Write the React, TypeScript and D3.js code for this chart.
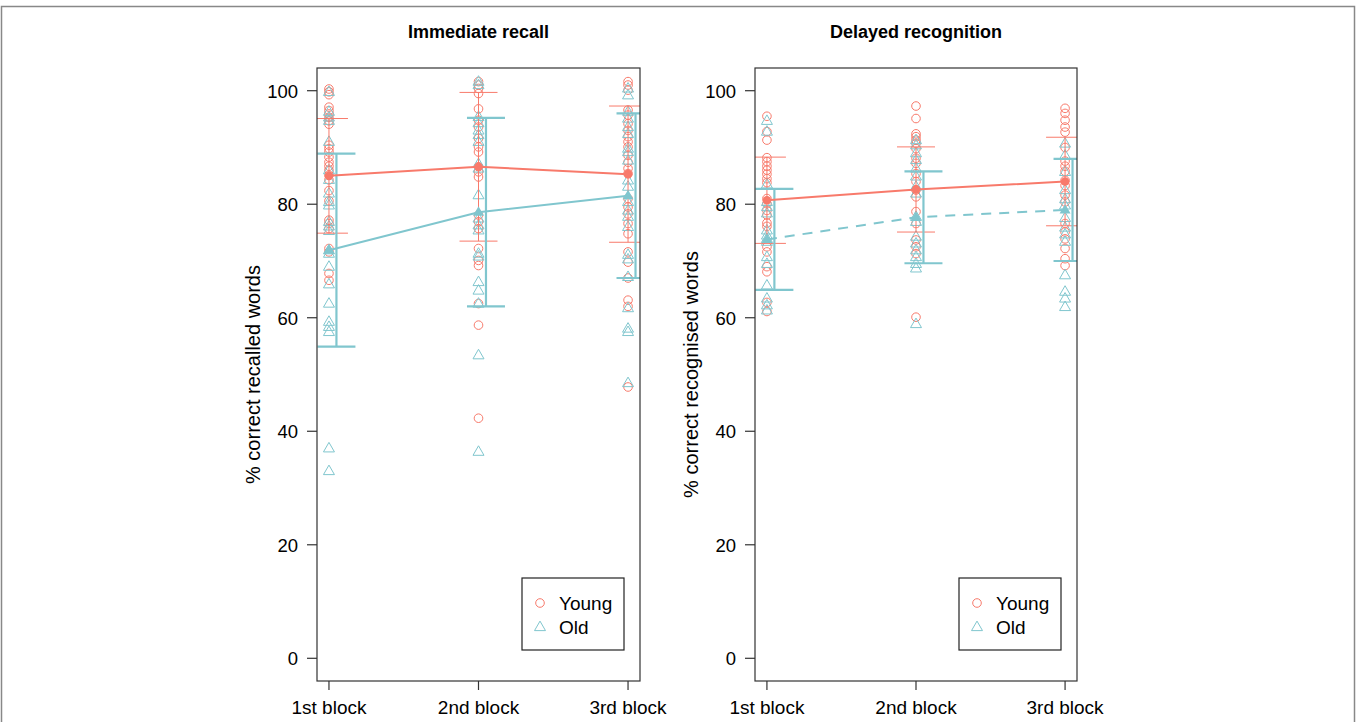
import React from 'react';
import * as d3 from 'd3';

const blocks = ['1st block', '2nd block', '3rd block'];
const yTicks = [0, 20, 40, 60, 80, 100];

// Immediate recall, individual scores (% words)
const recallYoung1 = [100.3, 99.8, 99.3, 97.1, 96.5, 95.9, 95.3, 94.7, 94.1, 90.4, 89.8, 89.2, 88.3, 87.4, 86.7, 86.0, 85.1, 84.3, 82.4, 80.6, 77.2, 76.6, 75.7, 72.2, 71.6, 67.8, 66.6];
const recallOld1 = [99.8, 96.3, 95.3, 94.7, 91.0, 86.0, 84.3, 81.9, 80.4, 79.8, 76.9, 76.1, 75.3, 71.9, 71.3, 69.0, 65.9, 62.5, 59.3, 58.4, 57.5, 37.0, 33.0];
const recallYoung2 = [101.6, 101.0, 100.4, 99.5, 96.8, 94.8, 93.6, 91.6, 90.1, 89.2, 86.6, 85.7, 84.8, 78.1, 76.9, 75.7, 72.2, 70.1, 69.2, 62.5, 58.7, 42.3];
const recallOld2 = [101.6, 101.0, 95.4, 94.3, 93.0, 92.2, 91.0, 87.1, 86.3, 81.6, 77.5, 76.3, 75.4, 71.3, 70.8, 66.3, 64.8, 62.5, 53.4, 36.4];
const recallYoung3 = [101.6, 101.0, 100.1, 96.6, 95.7, 94.2, 93.0, 91.9, 91.0, 90.1, 88.6, 87.4, 86.3, 85.4, 81.0, 79.5, 78.3, 76.6, 74.8, 71.6, 69.8, 67.0, 63.1, 62.0, 47.8];
const recallOld3 = [100.4, 99.2, 96.3, 95.1, 93.6, 92.4, 89.8, 89.2, 87.7, 84.2, 83.1, 80.4, 78.9, 77.8, 76.0, 71.1, 70.3, 67.2, 61.7, 58.1, 57.5, 48.5];
const recallYoungMean = [85.0, 86.6, 85.3];
const recallYoungSd = [10.1, 13.1, 12.0];
const recallOldMean = [71.9, 78.6, 81.5];
const recallOldSd = [17.0, 16.6, 14.5];

// Delayed recognition, individual scores (% words)
const recogYoung1 = [95.5, 92.8, 91.3, 88.2, 87.5, 86.7, 86.0, 85.3, 84.5, 83.8, 81.0, 80.1, 78.9, 78.1, 76.7, 76.1, 72.5, 71.6, 69.0, 68.1, 62.7, 61.1];
const recogOld1 = [94.7, 92.8, 83.5, 80.4, 79.5, 78.4, 75.4, 74.5, 73.9, 73.4, 70.7, 69.5, 65.7, 63.4, 62.2, 61.3];
const recogYoung2 = [97.3, 95.1, 92.4, 91.9, 91.3, 90.7, 89.8, 88.1, 87.2, 85.4, 84.0, 82.5, 81.3, 78.7, 76.6, 73.7, 72.5, 71.3, 60.1];
const recogOld2 = [91.3, 90.4, 89.0, 87.8, 86.3, 84.9, 83.1, 81.9, 77.8, 76.9, 74.3, 73.1, 71.9, 70.7, 69.5, 68.7, 58.9];
const recogYoung3 = [96.9, 96.0, 94.8, 93.6, 92.7, 90.0, 87.6, 86.7, 85.8, 84.2, 83.3, 81.6, 80.4, 76.6, 75.1, 73.9, 72.2, 70.4, 69.2];
const recogOld3 = [90.7, 88.6, 85.7, 82.5, 80.9, 79.8, 77.6, 75.9, 74.7, 73.4, 67.5, 64.6, 63.4, 61.9];
const recogYoungMean = [80.7, 82.6, 84.0];
const recogYoungSd = [7.6, 7.5, 7.8];
const recogOldMean = [73.8, 77.7, 79.0];
const recogOldSd = [8.9, 8.1, 9.0];

const RED = '#f87a6b';
const TEAL = '#80c6ce';
const FONT = '"Liberation Sans", Arial, Helvetica, sans-serif';

const y = d3.scaleLinear().domain([-4, 104]).range([681, 68]);

function triPath(cx: number, cy: number, s: number) {
  const h = s * 0.866;
  return `M${cx},${cy - h * 0.62}L${cx + s / 2},${cy + h * 0.38}L${cx - s / 2},${cy + h * 0.38}Z`;
}

function Panel(props: any) {
  const { id, left, right, title, ylabel, young, old, yMean, ySd, oMean, oSd, dashed, legendX } = props;
  const x = d3.scaleLinear().domain([0.92, 3.08]).range([left, right]);
  const top = y(104);
  const bottom = y(-4);
  const off = 0.05;
  const cap = 19;
  const line = d3.line<number>().x((_, i) => x(i + 1)).y(d => y(d));

  return (
    <g>
      <defs>
        <clipPath id={id}>
          <rect x={left} y={top} width={right - left} height={bottom - top} />
        </clipPath>
      </defs>
      <text x={(left + right) / 2} y={38} textAnchor="middle" fontWeight="bold" fontSize={18} fontFamily={FONT}>{title}</text>

      <g clipPath={`url(#${id})`}>
        {young.map((vals: number[], i: number) => vals.map((v, j) => (
          <circle key={`y${i}-${j}`} cx={x(i + 1)} cy={y(v)} r={4.3} fill="none" stroke={RED} strokeWidth={1} />
        )))}
        {old.map((vals: number[], i: number) => vals.map((v, j) => (
          <path key={`o${i}-${j}`} d={triPath(x(i + 1), y(v), 11)} fill="none" stroke={TEAL} strokeWidth={1} />
        )))}

        {yMean.map((m: number, i: number) => {
          const cx = x(i + 1);
          return (
            <g key={`ye${i}`} stroke={RED} strokeWidth={1}>
              <line x1={cx} x2={cx} y1={y(m - ySd[i])} y2={y(m + ySd[i])} />
              <line x1={cx - cap} x2={cx + cap} y1={y(m - ySd[i])} y2={y(m - ySd[i])} />
              <line x1={cx - cap} x2={cx + cap} y1={y(m + ySd[i])} y2={y(m + ySd[i])} />
            </g>
          );
        })}
        {oMean.map((m: number, i: number) => {
          const cx = x(i + 1 + off);
          return (
            <g key={`oe${i}`} stroke={TEAL} strokeWidth={2.2}>
              <line x1={cx} x2={cx} y1={y(m - oSd[i])} y2={y(m + oSd[i])} />
              <line x1={cx - cap} x2={cx + cap} y1={y(m - oSd[i])} y2={y(m - oSd[i])} />
              <line x1={cx - cap} x2={cx + cap} y1={y(m + oSd[i])} y2={y(m + oSd[i])} />
            </g>
          );
        })}

        <path d={line(yMean) || ''} fill="none" stroke={RED} strokeWidth={2} />
        <path d={line(oMean) || ''} fill="none" stroke={TEAL} strokeWidth={2}
          strokeDasharray={dashed ? '10,8' : undefined} />
        {yMean.map((m: number, i: number) => (
          <circle key={`ym${i}`} cx={x(i + 1)} cy={y(m)} r={4.3} fill={RED} />
        ))}
        {oMean.map((m: number, i: number) => (
          <path key={`om${i}`} d={triPath(x(i + 1), y(m), 11)} fill={TEAL} />
        ))}
      </g>

      <rect x={left} y={top} width={right - left} height={bottom - top} fill="none" stroke="#333" strokeWidth={1.2} />

      {yTicks.map(t => (
        <g key={`yt${t}`}>
          <line x1={left - 10} x2={left} y1={y(t)} y2={y(t)} stroke="#333" strokeWidth={1.2} />
          <text x={left - 19} y={y(t) + 7} textAnchor="end" fontSize={18.5} fontFamily={FONT}>{t}</text>
        </g>
      ))}
      {blocks.map((b, i) => (
        <g key={`xt${i}`}>
          <line x1={x(i + 1)} x2={x(i + 1)} y1={bottom} y2={bottom + 9} stroke="#333" strokeWidth={1.2} />
          <text x={x(i + 1)} y={bottom + 33} textAnchor="middle" fontSize={19} fontFamily={FONT}>{b}</text>
        </g>
      ))}
      <text transform={`translate(${left - 57},${(top + bottom) / 2}) rotate(-90)`} textAnchor="middle"
        fontSize={20} fontFamily={FONT}>{ylabel}</text>

      <g>
        <rect x={legendX} y={578} width={102} height={72} fill="white" stroke="#222" strokeWidth={1.2} />
        <circle cx={legendX + 18} cy={603} r={4.3} fill="none" stroke={RED} strokeWidth={1} />
        <path d={triPath(legendX + 18, 627, 11)} fill="none" stroke={TEAL} strokeWidth={1} />
        <text x={legendX + 37} y={610} fontSize={19} fontFamily={FONT}>Young</text>
        <text x={legendX + 37} y={634} fontSize={19} fontFamily={FONT}>Old</text>
      </g>
    </g>
  );
}

export default function App() {
  return (
    <svg width={1357} height={722} style={{ position: 'absolute', left: 0, top: 0, background: 'white' }}>
      <rect x={0} y={0} width={1357} height={722} fill="white" />
      <rect x={1.5} y={6.5} width={1353} height={760} fill="none" stroke="#888" strokeWidth={1.5} />
      <Panel id="clipA" left={317} right={640} title="Immediate recall" ylabel="% correct recalled words"
        young={[recallYoung1, recallYoung2, recallYoung3]} old={[recallOld1, recallOld2, recallOld3]}
        yMean={recallYoungMean} ySd={recallYoungSd} oMean={recallOldMean} oSd={recallOldSd}
        dashed={false} legendX={522} />
      <Panel id="clipB" left={755} right={1077} title="Delayed recognition" ylabel="% correct recognised words"
        young={[recogYoung1, recogYoung2, recogYoung3]} old={[recogOld1, recogOld2, recogOld3]}
        yMean={recogYoungMean} ySd={recogYoungSd} oMean={recogOldMean} oSd={recogOldSd}
        dashed={true} legendX={959} />
    </svg>
  );
}
